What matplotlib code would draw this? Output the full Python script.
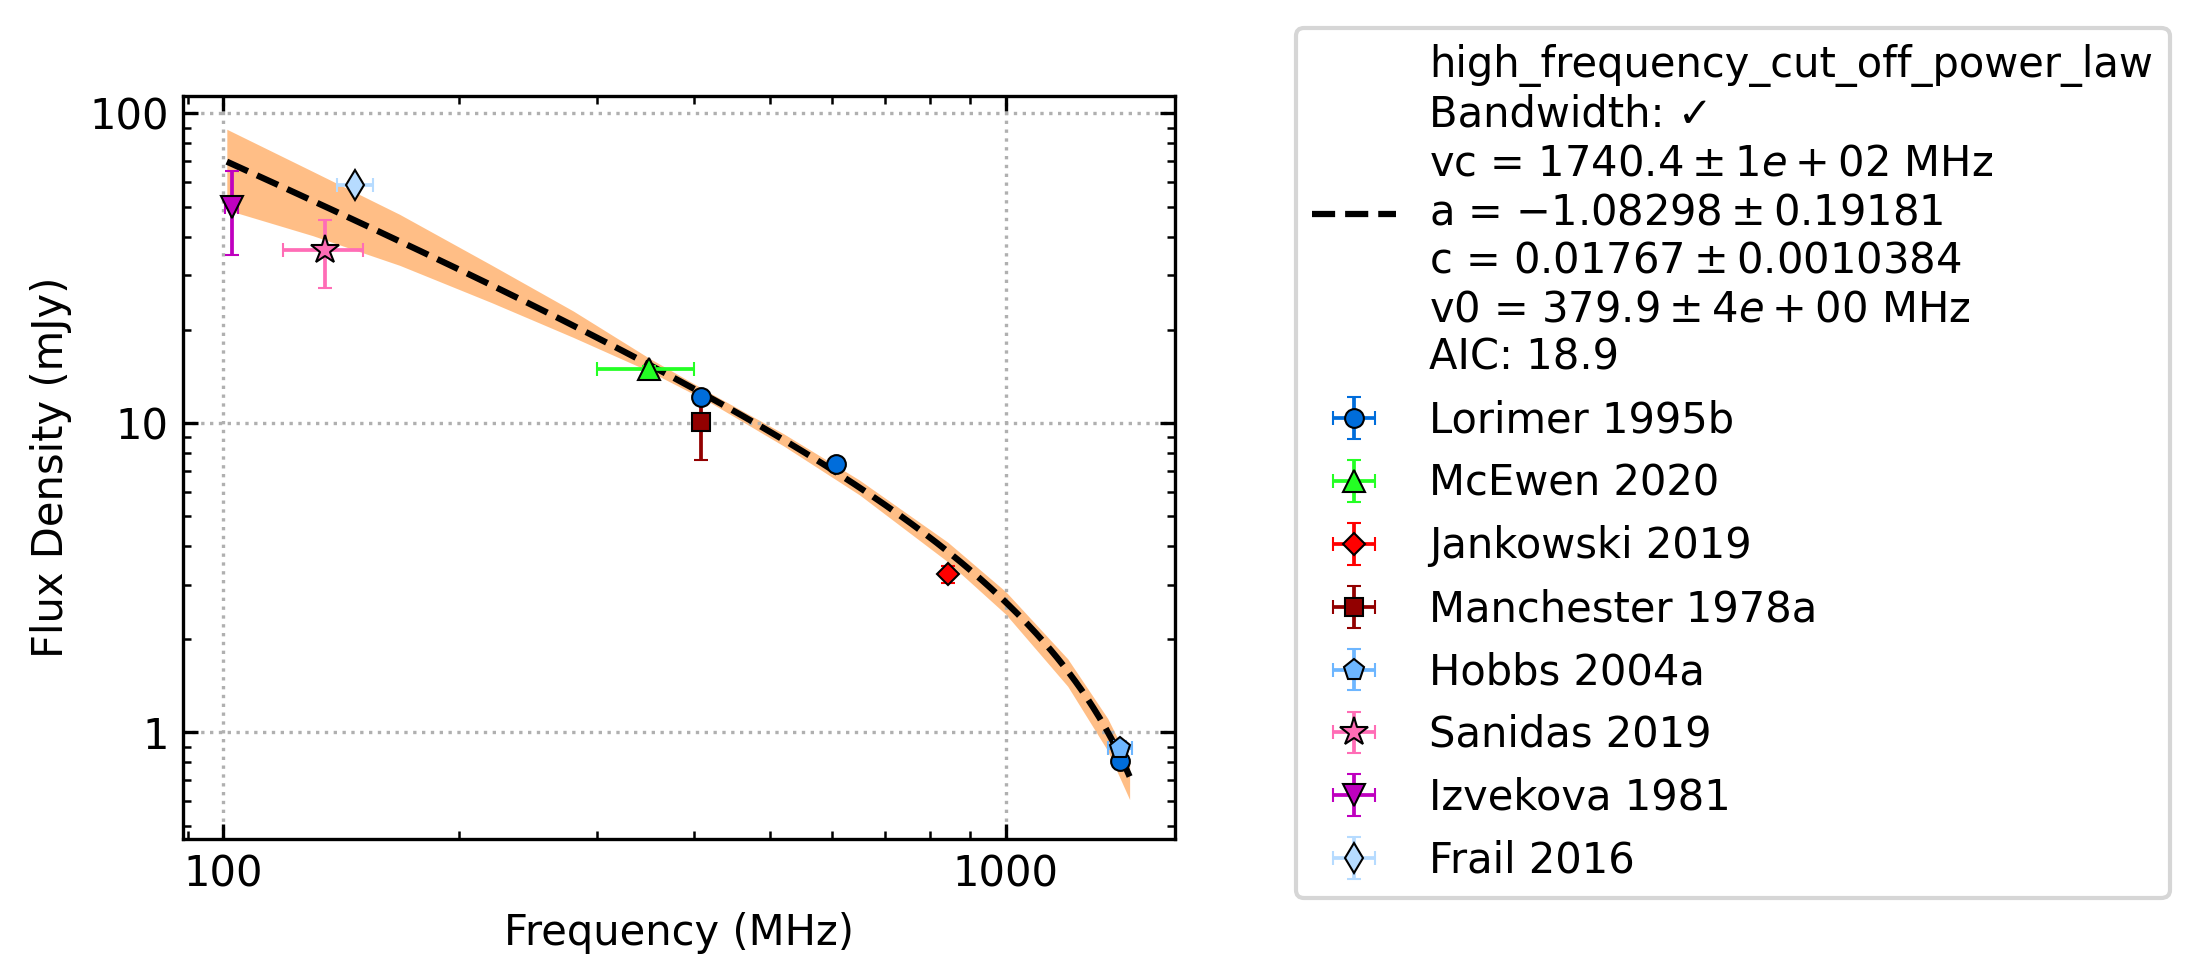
import numpy as np
import matplotlib
matplotlib.use("Agg")
import matplotlib.pyplot as plt
from matplotlib.ticker import FuncFormatter

# measured flux densities per reference (MHz, mJy)
refs = ["Lorimer 1995b", "McEwen 2020", "Jankowski 2019", "Manchester 1978a",
        "Hobbs 2004a", "Sanidas 2019", "Izvekova 1981", "Frail 2016"]
freqs = [[408, 606, 1400], [350], [843], [408], [1400], [135], [102.5], [147.5]]
freq_err = [[2, 2, 2], [50], [8], [2], [50], [16], [2], [8]]
fluxes = [[12.1, 7.35, 0.81], [14.9], [3.25], [10.1], [0.89], [36.3], [50.0], [58.8]]
flux_err = [[0.3, 0.2, 0.03], [0.4], [0.2], [2.5], [0.05], [9.0], [15.0], [1.5]]
markers = ["o", "^", "D", "s", "p", "*", "v", "d"]
colors = ["#006ddb", "#24ff24", "#ff0000", "#920000", "#6db6ff", "#ff6db6", "#bf00bf", "#b6dbff"]
msizes = {"o": 4.5, "^": 5.2, "D": 3.6, "s": 4.5, "p": 5.2, "*": 7, "v": 5.5, "d": 5}

# fitted model parameters (shown in the legend)
vc, a, c, v0 = 1740.4, -1.08298, 0.01767, 379.9
fit_lo, fit_hi = 101, 1440

# uncertainty band edges
band_freq = [101, 130, 168, 220, 280, 350, 420, 520, 650, 843, 1000, 1200, 1350, 1440]
band_upper = [88.9, 65.0, 47.2, 32.4, 23.0, 16.2, 12.45, 9.23, 6.54, 4.12, 2.85, 1.73, 1.11, 0.80]
band_lower = [48.8, 40.3, 32.3, 24.5, 18.9, 14.7, 11.6, 8.43, 5.86, 3.56, 2.41, 1.41, 0.873, 0.607]

label = ("high_frequency_cut_off_power_law\n"
         "Bandwidth: \u2713\n"
         "vc = $1740.4 \\pm 1e+02$ MHz\n"
         "a = $-1.08298 \\pm 0.19181$\n"
         "c = $0.01767 \\pm 0.0010384$\n"
         "v0 = $379.9 \\pm 4e+00$ MHz\n"
         "AIC: 18.9")

fig = plt.figure(figsize=(2198 / 300, 980 / 300), dpi=300)
ax = fig.add_axes([0.0833, 0.1443, 0.4513, 0.7579])

v = np.logspace(np.log10(fit_lo), np.log10(fit_hi), 300)
model = c * 1000 * (v / v0) ** a * (1 - v / vc)
ax.fill_between(band_freq, band_lower, band_upper, color="C1", alpha=0.5, lw=0, zorder=1)
fit_line, = ax.plot(v, model, "k--", lw=1.5, zorder=2, label=label)

handles = [fit_line]
for i in range(len(refs)):
    h = ax.errorbar(freqs[i], fluxes[i], xerr=freq_err[i], yerr=flux_err[i],
                    fmt=markers[i], color=colors[i], mec="k", mew=0.5,
                    ms=msizes[markers[i]], elinewidth=0.9, capsize=1.6,
                    capthick=0.9, label=refs[i], zorder=3)
    handles.append(h)

ax.set_xscale("log")
ax.set_yscale("log")
ax.set_xlim(88.8, 1646)
ax.set_ylim(0.454, 114)
fmt = FuncFormatter(lambda x, p: "%g" % x)
ax.xaxis.set_major_formatter(fmt)
ax.yaxis.set_major_formatter(fmt)
ax.tick_params(which="both", direction="in", top=True, right=True)
ax.grid(True, which="major", ls=":", color="#b0b0b0", lw=0.8)
ax.set_xlabel("Frequency (MHz)")
ax.set_ylabel("Flux Density (mJy)")

ax.legend(handles=handles, loc="upper left", bbox_to_anchor=(0.580, 0.993),
          bbox_transform=fig.transFigure, fontsize=10)

fig.savefig("out.png", dpi=300)
